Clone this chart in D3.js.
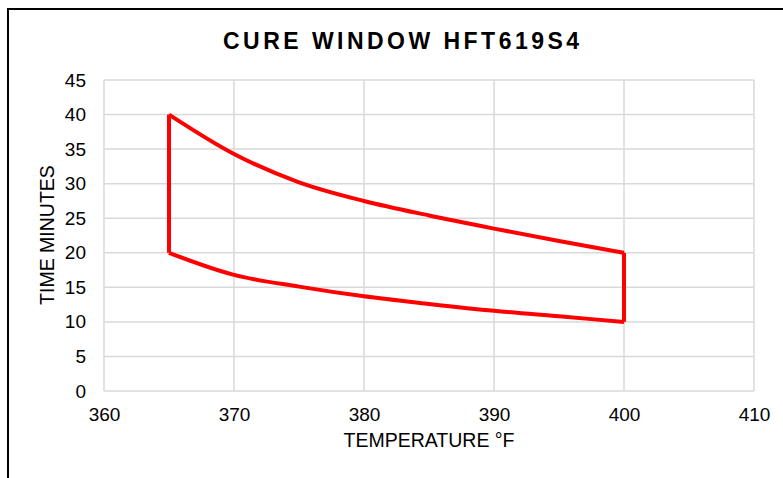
<!DOCTYPE html>
<html>
<head>
<meta charset="utf-8">
<script src="https://cdn.jsdelivr.net/npm/d3@7"></script>
<style>
  body { margin: 0; background: #fff; }
  #chart { width: 783px; height: 478px; }
  text { font-family: "Liberation Sans", Arial, sans-serif; fill: #000; }
</style>
</head>
<body>
<div id="chart"></div>
<script>
const width = 783;
const height = 478;

const upperTemp = [365, 370, 375, 380, 385, 390, 395, 400];
const upperTime = [40, 34.3, 30.2, 27.5, 25.4, 23.5, 21.7, 20];
const lowerTemp = [365, 370, 375, 380, 385, 390, 395, 400];
const lowerTime = [20, 16.8, 15.1, 13.7, 12.6, 11.6, 10.8, 10];
const xTicks = [360, 370, 380, 390, 400, 410];
const yTicks = [0, 5, 10, 15, 20, 25, 30, 35, 40, 45];

const margin = { left: 104, right: 29, top: 80, bottom: 87 };

const svg = d3
  .select("#chart")
  .append("svg")
  .attr("width", width)
  .attr("height", height);

// chart frame (cropped on the right and bottom)
svg
  .append("path")
  .attr("d", "M8,478 V9 H783")
  .attr("fill", "none")
  .attr("stroke", "#000")
  .attr("stroke-width", 2);

const x = d3
  .scaleLinear()
  .domain([360, 410])
  .range([margin.left, width - margin.right]);
const y = d3
  .scaleLinear()
  .domain([0, 45])
  .range([height - margin.bottom, margin.top]);

// gridlines
svg
  .append("g")
  .selectAll("line")
  .data(xTicks)
  .enter()
  .append("line")
  .attr("x1", (d) => x(d))
  .attr("x2", (d) => x(d))
  .attr("y1", y(0))
  .attr("y2", y(45))
  .attr("stroke", "#d9d9d9")
  .attr("stroke-width", 1.5);

svg
  .append("g")
  .selectAll("line")
  .data(yTicks)
  .enter()
  .append("line")
  .attr("x1", x(360))
  .attr("x2", x(410))
  .attr("y1", (d) => y(d))
  .attr("y2", (d) => y(d))
  .attr("stroke", "#d9d9d9")
  .attr("stroke-width", 1.5);

// axes, labels only
const xAxis = svg
  .append("g")
  .attr("transform", `translate(0,${y(0)})`)
  .call(d3.axisBottom(x).tickValues(xTicks).tickSize(0).tickPadding(17));
const yAxis = svg
  .append("g")
  .attr("transform", `translate(${x(360) - 18},0)`)
  .call(d3.axisLeft(y).tickValues(yTicks).tickSize(0).tickPadding(0));
[xAxis, yAxis].forEach((g) => {
  g.select(".domain").remove();
  g.selectAll("text")
    .attr("font-family", "Liberation Sans, Arial, sans-serif")
    .attr("font-size", 19)
    .attr("fill", "#000");
});

// cure window outline
const curve = d3
  .line()
  .x((d) => x(d[0]))
  .y((d) => y(d[1]))
  .curve(d3.curveMonotoneX);
const straight = d3
  .line()
  .x((d) => x(d[0]))
  .y((d) => y(d[1]));

const upper = upperTemp.map((t, i) => [t, upperTime[i]]);
const lower = lowerTemp.map((t, i) => [t, lowerTime[i]]);

const outline = svg.append("g").attr("fill", "none").attr("stroke", "#ff0000").attr("stroke-width", 4);
outline.append("path").attr("d", curve(upper));
outline.append("path").attr("d", curve(lower));
outline
  .append("path")
  .attr("d", straight([upper[0], lower[0]]));
outline
  .append("path")
  .attr("d", straight([upper[upper.length - 1], lower[lower.length - 1]]));

// title
svg
  .append("text")
  .attr("x", 401)
  .attr("y", 49)
  .attr("text-anchor", "middle")
  .attr("font-size", 23)
  .attr("font-weight", "bold")
  .attr("textLength", 356)
  .attr("lengthAdjust", "spacing")
  .text("CURE WINDOW HFT619S4");

// axis titles
svg
  .append("text")
  .attr("x", 429)
  .attr("y", 447)
  .attr("text-anchor", "middle")
  .attr("font-size", 19.5)
  .text("TEMPERATURE °F");

svg
  .append("text")
  .attr("transform", "translate(54,235) rotate(-90)")
  .attr("text-anchor", "middle")
  .attr("font-size", 19.5)
  .text("TIME MINUTES");
</script>
</body>
</html>
